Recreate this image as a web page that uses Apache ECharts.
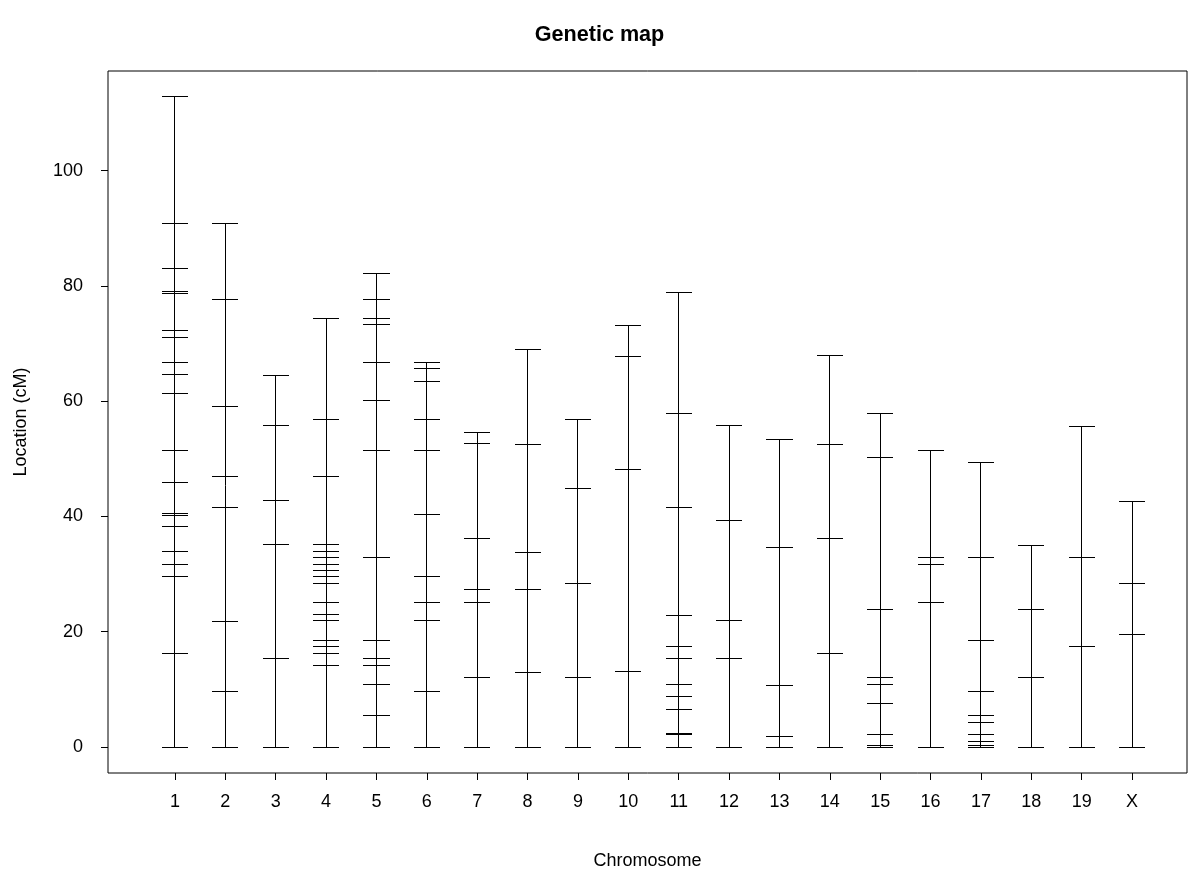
<!DOCTYPE html>
<html>
<head>
<meta charset="utf-8">
<script src="https://cdn.jsdelivr.net/npm/echarts@6/dist/echarts.min.js"></script>
<style>
html,body{margin:0;padding:0;background:#fff;}
#chart{width:1199px;height:875px;}
</style>
</head>
<body>
<div id="chart"></div>
<script>
// Marker positions (cM) per chromosome
const chr1 = [0, 16.3, 29.5, 31.7, 33.9, 38.2, 40.2, 40.6, 45.9, 51.4, 61.3, 64.6, 66.7, 71.1, 72.2, 78.7, 79.0, 83.1, 90.8, 112.8];
const chr2 = [0, 9.7, 21.8, 41.5, 46.9, 59.1, 77.6, 90.8];
const chr3 = [0, 15.3, 35.1, 42.7, 55.8, 64.5];
const chr4 = [0, 14.2, 16.3, 17.4, 18.5, 21.9, 23.0, 25.0, 28.4, 29.5, 30.6, 31.7, 32.8, 33.9, 35.1, 47.0, 56.8, 74.4];
const chr5 = [0, 5.4, 10.8, 14.2, 15.3, 18.5, 32.8, 51.5, 60.1, 66.8, 73.3, 74.4, 77.7, 82.1];
const chr6 = [0, 9.7, 21.9, 25.1, 29.5, 40.4, 51.4, 56.8, 63.5, 65.7, 66.8];
const chr7 = [0, 12.0, 25.1, 27.3, 36.1, 52.6, 54.5];
const chr8 = [0, 13.0, 27.3, 33.8, 52.5, 68.9];
const chr9 = [0, 12.0, 28.4, 44.8, 56.9];
const chr10 = [0, 13.1, 48.2, 67.8, 73.2];
const chr11 = [0, 2.1, 2.3, 6.5, 8.7, 10.8, 15.3, 17.4, 22.8, 41.5, 57.9, 78.9];
const chr12 = [0, 15.3, 21.9, 39.3, 55.8];
const chr13 = [0, 1.9, 10.6, 34.7, 53.4];
const chr14 = [0, 16.3, 36.1, 52.5, 67.9];
const chr15 = [0, 0.2, 2.1, 7.5, 10.8, 12.0, 23.9, 50.3, 57.9];
const chr16 = [0, 25.1, 31.7, 32.8, 51.5];
const chr17 = [0, 0.2, 1.0, 2.1, 4.3, 5.4, 9.7, 18.5, 32.8, 49.3];
const chr18 = [0, 12.0, 23.9, 35.0];
const chr19 = [0, 17.4, 32.8, 55.7];
const chrX = [0, 19.6, 28.4, 42.6];

const chromLabels = ['1','2','3','4','5','6','7','8','9','10','11','12','13','14','15','16','17','18','19','X'];
const markerLists = [chr1, chr2, chr3, chr4, chr5, chr6, chr7, chr8, chr9, chr10,
                     chr11, chr12, chr13, chr14, chr15, chr16, chr17, chr18, chr19, chrX];
const yTickValues = [0, 20, 40, 60, 80, 100];

const chromData = chromLabels.map((c, i) => [i + 1, Math.max.apply(null, markerLists[i])]);
const chromPositions = chromLabels.map((c, i) => i + 1);

const FONT = '"Liberation Sans", Arial, Helvetica, sans-serif';
const chart = echarts.init(document.getElementById('chart'), null, {renderer: 'canvas'});

function crisp(v) { return Math.round(v - 0.5) + 0.5; }

const option = {
  backgroundColor: '#ffffff',
  animation: false,
  title: {
    text: 'Genetic map',
    left: 'center',
    top: 19,
    textStyle: {fontFamily: FONT, fontSize: 21.6, fontWeight: 'bold', color: '#000'}
  },
  grid: {
    left: 108, right: 12, top: 71, bottom: 102,
    show: true, borderColor: '#000', borderWidth: 1, backgroundColor: 'transparent'
  },
  xAxis: {
    type: 'value',
    min: -0.33, max: 21.09,
    name: 'Chromosome',
    nameLocation: 'middle',
    nameGap: 79,
    nameTextStyle: {fontFamily: FONT, fontSize: 18, color: '#000'},
    axisLine: {show: false, onZero: false},
    splitLine: {show: false},
    axisTick: {show: true, length: 7, inside: false, customValues: chromPositions,
               lineStyle: {color: '#000', width: 1}},
    axisLabel: {show: true, margin: 20, customValues: chromPositions,
                fontFamily: FONT, fontSize: 18, color: '#000',
                formatter: function (v) { return chromLabels[Math.round(v) - 1] || ''; }}
  },
  yAxis: {
    type: 'value',
    min: -4.51, max: 117.3,
    name: 'Location (cM)',
    nameLocation: 'middle',
    nameGap: 78,
    nameRotate: 90,
    nameTextStyle: {fontFamily: FONT, fontSize: 18, color: '#000'},
    axisLine: {show: false, onZero: false},
    splitLine: {show: false},
    axisTick: {show: true, length: 7, inside: false, customValues: yTickValues,
               lineStyle: {color: '#000', width: 1}},
    axisLabel: {show: true, margin: 25, customValues: yTickValues,
                fontFamily: FONT, fontSize: 18, color: '#000'}
  },
  series: [{
    type: 'custom',
    data: chromData,
    clip: false,
    renderItem: function (params, api) {
      const xv = api.value(0);
      const top = api.value(1);
      const markers = markerLists[params.dataIndex];
      const halfW = 0.26;
      const children = [];
      const p0 = api.coord([xv, 0]);
      const p1 = api.coord([xv, top]);
      const cx = crisp(p0[0]);
      children.push({
        type: 'line',
        shape: {x1: cx, y1: crisp(p0[1]), x2: cx, y2: crisp(p1[1])},
        style: {stroke: '#000', lineWidth: 1}
      });
      markers.forEach(function (m) {
        const a = api.coord([xv - halfW, m]);
        const b = api.coord([xv + halfW, m]);
        const yy = crisp(a[1]);
        children.push({
          type: 'line',
          shape: {x1: Math.round(a[0]), y1: yy, x2: Math.round(b[0]), y2: yy},
          style: {stroke: '#000', lineWidth: 1}
        });
      });
      return {type: 'group', children: children};
    }
  }]
};
chart.setOption(option);
</script>
</body>
</html>
